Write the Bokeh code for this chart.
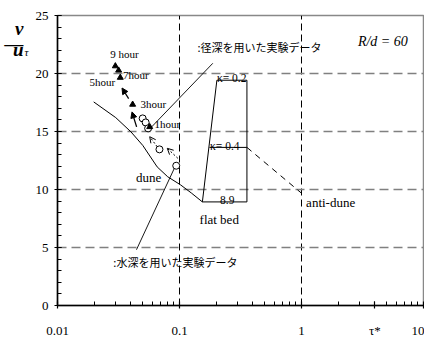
from bokeh.plotting import figure
from bokeh.models import (Range1d, FixedTicker, CustomJSTickFormatter, LinearAxis, Arrow,
                          NormalHead, OpenHead)
from bokeh.core.properties import value
from bokeh.embed import file_html
from bokeh.resources import INLINE

# ---- data ----
x_ticks = [0.01, 0.1, 1, 10]
x_tick_labels = ["0.01", "0.1", "1", "10"]
y_ticks = [0, 5, 10, 15, 20, 25]

# triangles (hydraulic radius data), 9h,7h,5h,3h,1h
tri_x = [0.0298, 0.0317, 0.0327, 0.0413, 0.057]
tri_y = [20.64, 20.27, 19.65, 17.33, 15.4]
# open circles (flow depth data)
circ_x = [0.0499, 0.0528, 0.0553, 0.0685, 0.094]
circ_y = [16.13, 15.78, 15.27, 13.46, 12.05]

# dune / flat-bed boundary curve
dune_x = [0.0198, 0.03, 0.040, 0.05, 0.0656, 0.08, 0.102, 0.125, 0.154]
dune_y = [17.55, 16.2, 14.97, 13.8, 11.95, 11.1, 10.4, 9.7, 8.93]

# flat bed / kappa box
steep_x = [0.154, 0.2025]
steep_y = [8.93, 19.42]
kappa_left_x = [0.2025, 0.176, 0.154]
kappa_y = [19.42, 13.63, 8.93]
kappa_right_x = 0.357
kappa_labels = ["κ= 0.2", "κ= 0.4", "8.9"]
kappa_label_x = [0.2025, 0.178, 0.215]

# anti-dune boundary (dashed)
anti_x = [0.357, 1.0]
anti_y = [13.63, 9.68]

# leader lines for the Japanese notes
lead1_x = [0.1875, 0.0578]
lead1_y = [20.88, 15.29]
lead2_x = [0.0444, 0.0910]
lead2_y = [4.81, 11.86]

# arrows (start x, start y, end x, end y)
solid_arrows = [(0.0383, 17.84, 0.0338, 18.75), (0.0445, 15.4, 0.0408, 16.69)]
dotted_arrows = [(0.0656, 13.69, 0.057, 14.55), (0.0969, 12.69, 0.0794, 13.55)]

hour_labels = ["9 hour", "7hour", "5hour", "3hour", "1hour"]
hour_x = [0.0271, 0.0345, 0.0183, 0.0478, 0.0623]
hour_y = [21.68, 19.85, 19.27, 17.38, 15.64]

region_labels = ["dune", "flat bed", "anti-dune"]
region_x = [0.0441, 0.146, 1.091]
region_y = [11.04, 7.39, 8.85]

note_labels = [":径深を用いた実験データ", ":水深を用いた実験データ"]
note_x = [0.1406, 0.0287]
note_y = [22.25, 3.78]

# axis titles: v / u_tau (left, top) and tau_* (bottom, right)
ytitle_main = ["v", "―", "u"]
ytitle_main_at = [23.88, 22.62, 22.08]
ytitle_sub = ["τ"]
ytitle_sub_at = [21.82]
xtitle = "τ*"
xtitle_at = 4

SERIF = "Liberation Serif"

p = figure(width=424, height=340, x_axis_type="log",
           x_range=Range1d(0.01, 10), y_range=Range1d(0, 25),
           output_backend="svg", toolbar_location=None,
           min_border_left=57, min_border_right=1, min_border_top=15, min_border_bottom=34)
p.background_fill_color = "white"
p.border_fill_color = "white"
p.outline_line_color = "#888888"
p.outline_line_width = 1.5

minor_x = []
for dec in [0.01, 0.1, 1]:
    for k in range(2, 10):
        minor_x.append(dec * k)
xt = x_ticks[:3] + [xtitle_at] + x_ticks[3:]
xl = x_tick_labels[:3] + [xtitle] + x_tick_labels[3:]
p.xaxis.ticker = FixedTicker(ticks=xt, minor_ticks=minor_x)
p.xaxis.formatter = CustomJSTickFormatter(args=dict(labels=xl), code="return labels[index];")
p.yaxis.ticker = FixedTicker(ticks=y_ticks, minor_ticks=list(range(0, 26)))

for ax in [p.xaxis[0], p.yaxis[0]]:
    ax.axis_line_color = "black"
    ax.axis_line_width = 1.5
    ax.major_tick_line_color = "black"
    ax.minor_tick_line_color = "black"
    ax.major_tick_line_width = 1.2
    ax.minor_tick_line_width = 1
    ax.major_tick_in = 4
    ax.major_tick_out = 3
    ax.minor_tick_in = 4
    ax.minor_tick_out = 0
    ax.major_label_text_font = SERIF
    ax.major_label_text_font_size = "13px"
    ax.major_label_text_color = "black"
p.xaxis.major_label_standoff = 14
p.yaxis.major_label_standoff = 6

# extra label-only axes carrying the y title pieces
def title_axis(ticks, labels, size, style, standoff):
    ax = LinearAxis(ticker=FixedTicker(ticks=ticks),
                    formatter=CustomJSTickFormatter(args=dict(labels=labels),
                                                    code="return labels[index];"))
    ax.axis_line_color = None
    ax.major_tick_line_color = None
    ax.minor_tick_line_color = None
    ax.major_tick_in = 0
    ax.major_tick_out = 0
    ax.minor_tick_in = 0
    ax.minor_tick_out = 0
    ax.major_label_standoff = standoff
    ax.major_label_text_font = SERIF
    ax.major_label_text_font_size = size
    ax.major_label_text_font_style = style
    ax.major_label_text_color = "black"
    p.add_layout(ax, "left")

title_axis(ytitle_sub_at, ytitle_sub, "11px", "italic", 4)
title_axis(ytitle_main_at, ytitle_main, "19px", "bold italic", -2)

p.xgrid.ticker = FixedTicker(ticks=[0.1, 1])
p.xgrid.grid_line_color = "black"
p.xgrid.grid_line_width = 1
p.xgrid.grid_line_dash = "7 4"
p.ygrid.ticker = FixedTicker(ticks=[5, 10, 15, 20])
p.ygrid.grid_line_color = "#808080"
p.ygrid.grid_line_width = 1.6
p.ygrid.grid_line_dash = "9 5"

# boundary curves
p.line(dune_x, dune_y, line_color="black", line_width=1)
p.line(steep_x, steep_y, line_color="black", line_width=1)
p.segment(x0=kappa_left_x, y0=kappa_y, x1=[kappa_right_x] * 3, y1=kappa_y,
          line_color="black", line_width=1)
p.segment(x0=[kappa_right_x], y0=[kappa_y[2]], x1=[kappa_right_x], y1=[kappa_y[0]],
          line_color="black", line_width=1)
p.line(anti_x, anti_y, line_color="black", line_width=1, line_dash="6 5")

# leader lines
p.line(lead1_x, lead1_y, line_color="black", line_width=0.9)
p.line(lead2_x, lead2_y, line_color="black", line_width=0.9)

# arrows
for (xs, ys, xe, ye) in solid_arrows:
    p.add_layout(Arrow(end=NormalHead(size=6, fill_color="black", line_color="black"),
                       x_start=xs, y_start=ys, x_end=xe, y_end=ye,
                       line_color="black", line_width=1.3))
for (xs, ys, xe, ye) in dotted_arrows:
    p.add_layout(Arrow(end=OpenHead(size=6, line_color="black", line_width=1),
                       x_start=xs, y_start=ys, x_end=xe, y_end=ye,
                       line_color="black", line_width=1, line_dash="2 2"))

# markers
p.scatter(circ_x, circ_y, marker="circle", size=7, fill_color="white",
          line_color="black", line_width=1)
p.scatter(tri_x, tri_y, marker="triangle", size=6, fill_color="black",
          line_color="black")

# text labels
p.text(x=hour_x, y=hour_y, text=hour_labels, text_font=value(SERIF),
       text_font_size="11px", text_align="left", text_baseline="middle", text_color="black")
p.text(x=region_x, y=region_y, text=region_labels, text_font=value(SERIF),
       text_font_size="13px", text_align="left", text_baseline="middle", text_color="black")
p.text(x=kappa_label_x, y=[v + 0.15 for v in kappa_y], text=kappa_labels, text_font=value(SERIF),
       text_font_size="11.5px", text_align="left", text_baseline="alphabetic", text_color="black")
p.text(x=note_x, y=note_y, text=note_labels, text_font=value("Noto Sans CJK JP"),
       text_font_size="11px", text_align="left", text_baseline="middle", text_color="black")
p.text(x=[2.90], y=[22.78], text=["R/d = 60"], text_font=value(SERIF),
       text_font_size="14px", text_font_style="italic", text_align="left",
       text_baseline="middle", text_color="black")

open("out.html", "w").write(file_html(p, INLINE))
